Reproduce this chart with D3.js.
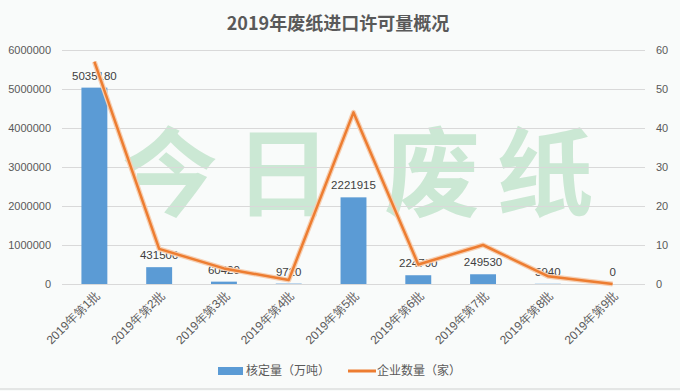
<!DOCTYPE html>
<html>
<head>
<meta charset="utf-8">
<script src="https://cdn.jsdelivr.net/npm/d3@7/dist/d3.min.js"></script>
<style>
  html, body { margin: 0; padding: 0; background: #fff; }
  svg { display: block; font-family: "Noto Sans CJK SC", "DejaVu Sans", sans-serif; }
</style>
</head>
<body>
<svg id="chart" width="680" height="391"></svg>
<script>
(function () {
    'use strict';

    const WIDTH = 680;
    const HEIGHT = 391;

    // data
    const batches = ["2019年第1批", "2019年第2批", "2019年第3批", "2019年第4批", "2019年第5批",
                     "2019年第6批", "2019年第7批", "2019年第8批", "2019年第9批"];
    const amounts = [5035180, 431500, 60420, 9720, 2221915, 224790, 249530, 5940, 0];
    const companies = [57, 9, 4, 1, 44, 5, 10, 2, 0];
    const leftTicks = [0, 1000000, 2000000, 3000000, 4000000, 5000000, 6000000];
    const rightTicks = [0, 10, 20, 30, 40, 50, 60];
    const watermark = ["今", "日", "废", "纸"];

    const BAR = "#5b9bd5";
    const LINE = "#ed7d31";
    const TXT = "#595959";

    var svg = d3.select("#chart");

    svg.append("rect")
        .attr("width", WIDTH).attr("height", HEIGHT)
        .attr("fill", "#f9fbfa");
    svg.append("line")
        .attr("x1", 0).attr("x2", WIDTH).attr("y1", HEIGHT - 2).attr("y2", HEIGHT - 2)
        .attr("stroke", "#e4e6e5").attr("stroke-width", 2);

    var margin = { left: 62, right: 35, top: 50, bottom: 107 };

    var x = d3.scaleBand()
        .domain(batches)
        .range([margin.left, WIDTH - margin.right])
        .paddingInner(0.6)
        .paddingOuter(0.3);

    var yL = d3.scaleLinear().domain([0, 6000000]).range([284, 50]);
    var yR = d3.scaleLinear().domain([0, 60]).range([284, 50]);

    // watermark, one glyph at a time so the gaps stay clear of the labels
    var wmX = d3.scalePoint().domain(watermark).range([170, 545]);
    var wmShift = [0, -12, 12, 0];
    svg.append("g")
        .attr("opacity", 0.26)
        .selectAll("text")
        .data(watermark)
        .join("text")
        .attr("x", (d, i) => wmX(d) + wmShift[i])
        .attr("y", 208)
        .attr("text-anchor", "middle")
        .attr("font-size", 96)
        .attr("font-weight", "bold")
        .attr("fill", "#4cb36a")
        .text(d => d);

    // title
    svg.append("text")
        .attr("x", 338).attr("y", 30)
        .attr("text-anchor", "middle")
        .attr("font-size", 18)
        .attr("font-weight", "bold")
        .attr("fill", TXT)
        .text("2019年废纸进口许可量概况");

    // gridlines
    svg.append("g")
        .selectAll("line")
        .data(leftTicks)
        .join("line")
        .attr("x1", margin.left).attr("x2", WIDTH - margin.right)
        .attr("y1", d => yL(d) + 0.5).attr("y2", d => yL(d) + 0.5)
        .attr("stroke", "#d9d9d9");

    // left axis
    var axL = svg.append("g")
        .attr("transform", `translate(${margin.left - 8},0)`)
        .call(d3.axisLeft(yL).tickValues(leftTicks).tickFormat(d3.format("d")).tickSize(0));
    axL.select(".domain").remove();
    axL.selectAll("text").attr("font-size", 11).attr("fill", TXT).attr("font-family", "Liberation Sans, sans-serif");

    // right axis
    var axR = svg.append("g")
        .attr("transform", `translate(${WIDTH - margin.right + 8},0)`)
        .call(d3.axisRight(yR).tickValues(rightTicks).tickSize(0));
    axR.select(".domain").remove();
    axR.selectAll("text").attr("font-size", 11).attr("fill", TXT).attr("font-family", "Liberation Sans, sans-serif");

    // bars
    svg.append("g")
        .selectAll("rect")
        .data(amounts)
        .join("rect")
        .attr("x", (d, i) => x(batches[i]))
        .attr("width", x.bandwidth())
        .attr("y", d => yL(d))
        .attr("height", d => yL(0) - yL(d))
        .attr("fill", BAR);

    // bar labels
    svg.append("g")
        .selectAll("text")
        .data(amounts)
        .join("text")
        .attr("x", (d, i) => x(batches[i]) + x.bandwidth() / 2)
        .attr("y", d => yL(d) - 8)
        .attr("text-anchor", "middle")
        .attr("font-size", 11.5)
        .attr("fill", "#404040")
        .attr("font-family", "Liberation Sans, sans-serif")
        .text(d => d);

    // x axis labels
    var axB = svg.append("g")
        .attr("transform", `translate(0,${yL(0)})`)
        .call(d3.axisBottom(x).tickSize(0));
    axB.select(".domain").remove();
    axB.selectAll("text")
        .attr("font-size", 12)
        .attr("fill", TXT)
        .attr("text-anchor", "end")
        .attr("transform", "translate(-2,4) rotate(-45)")
        .attr("dy", "0.7em");

    // company count line
    var line = d3.line()
        .x((d, i) => x(batches[i]) + x.bandwidth() / 2)
        .y(d => yR(d));

    svg.append("path")
        .datum(companies)
        .attr("d", line)
        .attr("fill", "none")
        .attr("stroke", "#f6cfb2")
        .attr("stroke-width", 5)
        .attr("stroke-linejoin", "round");
    svg.append("path")
        .datum(companies)
        .attr("d", line)
        .attr("fill", "none")
        .attr("stroke", LINE)
        .attr("stroke-width", 2.5)
        .attr("stroke-linejoin", "round");

    // legend
    var lg = svg.append("g").attr("transform", "translate(0,371)");
    lg.append("rect")
        .attr("x", 218).attr("y", -4).attr("width", 25).attr("height", 8)
        .attr("fill", BAR);
    lg.append("text")
        .attr("x", 246).attr("y", 0).attr("dy", "0.35em")
        .attr("font-size", 12).attr("fill", TXT)
        .text("核定量（万吨）");
    lg.append("line")
        .attr("x1", 348).attr("x2", 376).attr("y1", 0).attr("y2", 0)
        .attr("stroke", LINE).attr("stroke-width", 3);
    lg.append("text")
        .attr("x", 377).attr("y", 0).attr("dy", "0.35em")
        .attr("font-size", 12).attr("fill", TXT)
        .text("企业数量（家）");
})();
</script>
</body>
</html>
